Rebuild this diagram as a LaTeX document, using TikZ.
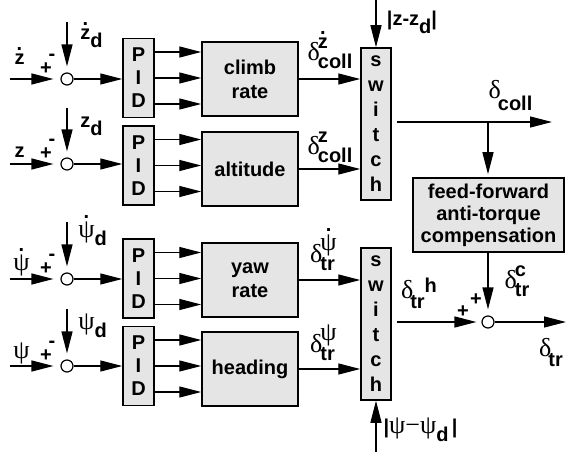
\documentclass[tikz,border=0pt]{standalone}
\usepackage{fontspec}
\setmainfont{Liberation Sans}
\newfontfamily\grk[Scale=1.3]{Liberation Serif}
\usetikzlibrary{arrows.meta,positioning}

\newcommand\gdelta{{\grk\mdseries δ}}
\newcommand\gpsi{{\grk\mdseries ψ}}
\newcommand\dotted[2][0.7em]{\ooalign{#2\cr\hidewidth\raisebox{#1}{.}\hidewidth\cr}}
\newcommand\ds[1]{\raisebox{-0.4em}{#1}}
\newcommand\dsig[2]{\gdelta\kern-2pt\rlap{\raisebox{0.6em}{#1}}\raisebox{-0.4em}{#2}}

\begin{document}
\begin{tikzpicture}[x=1pt,y=-1pt, font=\fontsize{20}{23}\selectfont\bfseries,
  box/.style={draw=black,line width=1.5pt,fill=black!10,align=center,inner sep=0pt},
  pid/.style={box,minimum width=31pt,minimum height=79pt},
  blk/.style={box,minimum width=96pt,minimum height=74pt,font=\fontsize{20}{24}\selectfont\bfseries},
  sw/.style={box,minimum width=30pt,minimum height=152pt,font=\fontsize{20}{25}\selectfont\bfseries},
  sumpt/.style={circle,draw=black,line width=1.2pt,fill=white,minimum size=12pt,inner sep=0pt},
  lbl/.style={inner sep=0pt},
  ar/.style={-{Triangle[length=22pt,width=11pt]},line width=1.3pt}]
 \useasboundingbox (0,0) rectangle (566,452);
 % summing points, PID stages and loop blocks
 \node[sumpt] (s1) at (67,79) {};
 \node[sumpt] (s2) at (67,164) {};
 \node[sumpt] (s3) at (67,279) {};
 \node[sumpt] (s4) at (67,366) {};
 \node[pid] (p1) at (138.5,78) {P\\I\\D};
 \node[pid] (p2) at (138.5,165.5) {P\\I\\D};
 \node[pid] (p3) at (138.5,278.5) {P\\I\\D};
 \node[pid] (p4) at (138.5,366) {P\\I\\D};
 \node[blk] (b1) at (250,79) {climb\\rate};
 \node[blk] (b2) at (250,169) {altitude};
 \node[blk] (b3) at (250,280) {yaw\\rate};
 \node[blk] (b4) at (250,369) {heading};
 \node[sw] (w1) at (376,124) {s\\w\\i\\t\\c\\h};
 \node[sw] (w2) at (376,324) {s\\w\\i\\t\\c\\h};
 \node[box,minimum width=151pt,minimum height=74pt,font=\fontsize{20}{22}\selectfont\bfseries] (ff) at (488.5,215) {feed-forward\\anti-torque\\compensation};
 \node[sumpt] (s5) at (488,322) {};
 % free ends
 \coordinate (i1) at (10,79);  \coordinate (d1) at (67,22);
 \coordinate (i2) at (10,164); \coordinate (d2) at (67,108);
 \coordinate (i3) at (10,279); \coordinate (d3) at (67,222);
 \coordinate (i4) at (10,366); \coordinate (d4) at (67,309);
 \coordinate (zin) at (376,0); \coordinate (pin) at (376,452);
 \coordinate (cb) at (488,122); \coordinate (co) at (552,122);
 \coordinate (tro) at (566,322);
 \foreach \i in {1,...,4} {
   \draw[ar,shorten >=7pt] (i\i) -- (s\i);
   \draw[ar,shorten >=6pt] (d\i) -- (s\i);
   \draw[ar] (s\i) -- (s\i -| p\i.west);
   \foreach \dy in {-26,0,26}
     \draw[ar] ([yshift=\dy pt]p\i.east) -- ([yshift=\dy pt]p\i.east -| b\i.west);
   \node[lbl] at ([shift={(-15,-22)}]s\i) {-};
   \node[lbl] at ([shift={(-21,-10)}]s\i) {+};
 }
 \draw[ar] (b1) -- (b1 -| w1.west);
 \draw[ar] (b2) -- (b2 -| w1.west);
 \draw[ar] (b3) -- (b3 -| w2.west);
 \draw[ar] (b4) -- (b4 -| w2.west);
 \draw[ar] (zin) -- (w1);
 \draw[ar] (pin) -- (w2);
 \draw[ar,shorten <=5pt] (w1.east |- cb) -- (co);
 \draw[ar,shorten >=3pt] (cb) -- (cb |- ff.north);
 \draw[ar,shorten >=6pt] (ff.south -| s5) -- (s5);
 \draw[ar,shorten <=5pt,shorten >=5pt] (w2.east |- s5) -- (s5);
 \draw[ar] (s5) -- (tro);
 \node[lbl] at ([shift={(-25,-10)}]s5) {+};
 \node[lbl] at ([shift={(-12,-22)}]s5) {+};
 % signal labels
 \node[lbl] at (19.5,59) {\dotted{z}};
 \node[lbl] at (19.5,152) {z};
 \node[lbl] at (21.5,263) {\dotted[0.95em]{\gpsi}};
 \node[lbl] at (21.5,353.5) {\gpsi};
 \node[lbl] at (91.5,38) {\dotted{z}\ds{d}};
 \node[lbl] at (91.5,126.5) {z\ds{d}};
 \node[lbl] at (92.5,234) {\dotted[0.95em]{\gpsi}\ds{d}};
 \node[lbl] at (92.5,326) {\gpsi\ds{d}};
 \node[lbl] at (330,53.5) {\dsig{\dotted{z}}{coll}};
 \node[lbl] at (330,147) {\dsig{z}{coll}};
 \node[lbl] at (510.5,96) {\gdelta\kern-3pt\raisebox{-0.6em}{coll}};
 \node[lbl] at (322.5,252.5) {\dsig{\dotted[0.95em]{\gpsi}}{tr}};
 \node[lbl] at (322.5,342.5) {\dsig{\gpsi}{tr}};
 \node[lbl] at (419,293.5) {\gdelta\kern-3pt\raisebox{-0.5em}{tr}\raisebox{0.3em}{h}};
 \node[lbl] at (517,281.5) {\dsig{c}{tr}};
 \node[lbl] at (551,352.5) {\gdelta\kern-3pt\raisebox{-0.5em}{tr}};
 \node[lbl] at (412,22.5) {|z-z\ds{d}|};
 \node[lbl] at (420.5,430) {|\gpsi{\grk\mdseries −}\gpsi\ds{d}\,|};
\end{tikzpicture}
\end{document}
